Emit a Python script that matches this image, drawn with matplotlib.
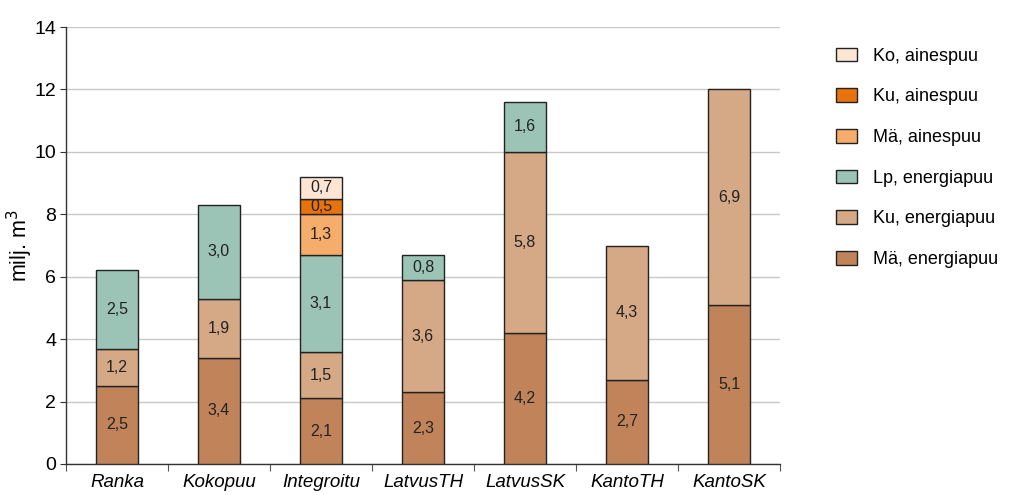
import numpy as np
import matplotlib
matplotlib.use("Agg")
import matplotlib.pyplot as plt

plt.rcParams['font.family'] = ['Liberation Sans', 'DejaVu Sans']

categories = ['Ranka', 'Kokopuu', 'Integroitu', 'LatvusTH', 'LatvusSK', 'KantoTH', 'KantoSK']

# stacked from bottom to top
series_names = ['Mä, energiapuu', 'Ku, energiapuu', 'Lp, energiapuu',
                'Mä, ainespuu', 'Ku, ainespuu', 'Ko, ainespuu']
ma_energia = [2.5, 3.4, 2.1, 2.3, 4.2, 2.7, 5.1]
ku_energia = [1.2, 1.9, 1.5, 3.6, 5.8, 4.3, 6.9]
lp_energia = [2.5, 3.0, 3.1, 0.8, 1.6, 0.0, 0.0]
ma_aines = [0.0, 0.0, 1.3, 0.0, 0.0, 0.0, 0.0]
ku_aines = [0.0, 0.0, 0.5, 0.0, 0.0, 0.0, 0.0]
ko_aines = [0.0, 0.0, 0.7, 0.0, 0.0, 0.0, 0.0]

colors = ['#C1845A', '#D5A886', '#9CC4B6', '#F6AD6C', '#E8720C', '#FDE5D3']

fig = plt.figure(figsize=(10.21, 4.95), dpi=100)
ax = fig.add_axes([66 / 1021, 31 / 495, 714 / 1021, 437 / 495])

x = np.arange(len(categories))
bottom = np.zeros(len(categories))
handles = []
for name, vals, col in zip(series_names,
                           [ma_energia, ku_energia, lp_energia, ma_aines, ku_aines, ko_aines],
                           colors):
    vals = np.array(vals)
    keep = vals > 0  # skip empty segments so no stray edge lines get drawn
    bars = ax.bar(x[keep], vals[keep], width=0.41, bottom=bottom[keep], color=col,
                  edgecolor='#222222', linewidth=1.0, label=name, zorder=3)
    handles.append(bars)
    for xi, b, v in zip(x[keep], bottom[keep], vals[keep]):
        ax.text(xi, b + v / 2, f'{v:.1f}'.replace('.', ','), ha='center',
                va='center', fontsize=11.5, color='#222222', zorder=4)
    bottom += vals

ax.set_xlim(-0.5, len(categories) - 0.5)
ax.set_ylim(0, 14)
ax.set_yticks(np.arange(0, 15, 2))
ax.yaxis.grid(True, color='#c8c8c8', linewidth=1.0, zorder=0)
ax.tick_params(axis='y', labelsize=14, direction='out', length=4, color='#333333', pad=3)

# ticks between categories, labels centred under the bars
ax.set_xticks(np.arange(len(categories) + 1) - 0.5)
ax.set_xticklabels([])
ax.set_xticks(x, minor=True)
ax.set_xticklabels(categories, minor=True, style='italic', fontsize=13.5)
ax.tick_params(axis='x', which='major', direction='out', length=5, color='#555555')
ax.tick_params(axis='x', which='minor', length=0, pad=7)

for s in ['top', 'right']:
    ax.spines[s].set_visible(False)
for s in ['left', 'bottom']:
    ax.spines[s].set_color('#333333')
    ax.spines[s].set_linewidth(1.0)

ax.set_ylabel('milj. m$^3$', fontsize=15.5, va='center')
ax.yaxis.set_label_coords(-0.064, 0.5)

leg = ax.legend(handles[::-1], series_names[::-1], loc='upper left',
                bbox_to_anchor=(1.055, 0.99), frameon=False, fontsize=13,
                labelspacing=1.3, handlelength=1.2, handleheight=0.8,
                handletextpad=0.9)

fig.savefig('out.png', dpi=100)
